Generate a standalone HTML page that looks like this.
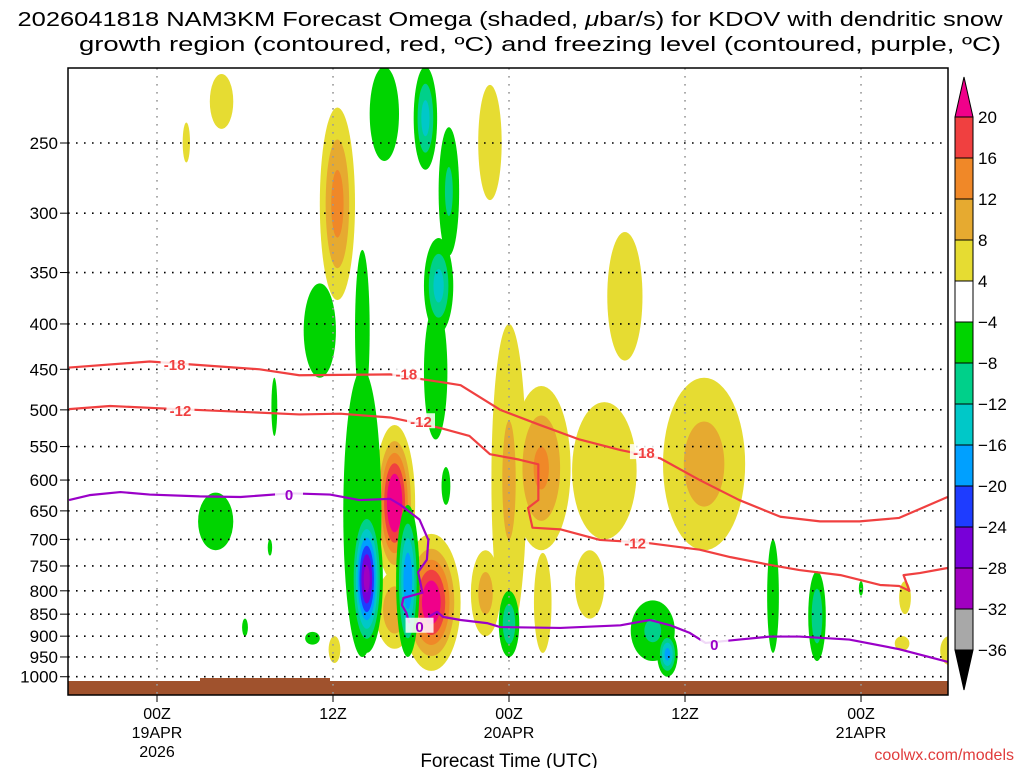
<!DOCTYPE html>
<html><head><meta charset="utf-8"><style>
html,body{margin:0;padding:0;background:#fff;}
svg{display:block;font-family:"Liberation Sans",sans-serif;}
</style></head><body>
<svg id="chart" width="1024" height="768" viewBox="0 0 1024 768" xmlns="http://www.w3.org/2000/svg">
<g font-size="20" fill="#000">
<text x="510" y="26" text-anchor="middle" textLength="985" lengthAdjust="spacingAndGlyphs">2026041818 NAM3KM Forecast Omega (shaded, <tspan font-style="italic">μ</tspan>bar/s) for KDOV with dendritic snow</text>
<text x="540" y="51" text-anchor="middle" textLength="922" lengthAdjust="spacingAndGlyphs">growth region (contoured, red, ºC) and freezing level (contoured, purple, ºC)</text>
</g>
<g id="shade"></g>
<rect x="68" y="681" width="880" height="14" fill="#a0522d"/>
<rect x="200" y="678" width="130" height="4" fill="#a0522d"/>
<g id="grid"></g>
<g id="contours"></g>
<rect x="68" y="68" width="880" height="627" fill="none" stroke="#000" stroke-width="1.5"/>
<g id="axes" font-size="17"></g>
<text x="509" y="767" text-anchor="middle" font-size="19">Forecast Time (UTC)</text>
<text x="1014" y="760" text-anchor="end" font-size="16" fill="#e03c3c">coolwx.com/models</text>
<g id="cbar" font-size="17"></g>
</svg>
<script>
// ----- data -----
const blobHour  = [10.4,8.0,18.3,28.7,37.9,22.2,22.2,24.7,30.0,32.2,36.5,43.3,35.5,28.4,19.5,18.1,57.0,56.8,60.0,32.3,
                   21.5,24.3,25.9,25.2,25.0,25.7,20.0,20.0,20.3,23.1,17.1,14.0,10.0,30.0,39.8,40.8,48.0,51.0,12.0,13.7,16.6,54.0];
const blobPTop  = [209,237,228,215,315,520,760,690,400,470,490,460,720,720,690,900,780,900,900,725,
                   205,205,240,320,380,580,450,330,640,640,360,460,620,800,820,890,700,760,860,700,890,780];
const blobPBot  = [241,263,376,290,440,780,930,985,900,720,700,720,860,900,820,965,850,935,970,940,
                   262,268,335,410,540,640,950,500,940,950,460,535,720,950,960,1000,940,960,900,730,920,810];
const blobHalfW = [0.8,0.25,1.2,0.8,1.2,1.4,1.3,2.0,1.2,2.0,2.2,2.8,1.0,1.0,0.35,0.4,0.4,0.5,0.6,0.6,
                   1.0,0.8,0.7,1.0,0.8,0.3,1.3,0.5,1.1,0.8,1.1,0.2,1.2,0.7,1.5,0.7,0.4,0.6,0.2,0.15,0.5,0.15];
const blobPeak  = [6,5,14,6,6,26,12,24,9,13,6,10,6,10,5,5,6,5,6,6,
                   -6,-14,-9,-14,-6,-5,-7,-6,-30,-20,-6,-5,-7,-12,-9,-18,-6,-12,-5,-5,-5,-5];
const levels = [20,16,12,8,4,-4,-8,-12,-16,-20,-24,-28,-32,-36];
const cbColors = ["#f04040","#f08828","#e6aa30","#e6dc32","#ffffff","#00d400","#00d08a","#00c8c8","#00a0ff","#1e3cff","#7800d8","#a000c0","#a8a8a8"];
const posLevels = [4,8,12,16,20];
const posColors = ["#e6dc32","#e6aa30","#f08828","#f04040","#f0008a"];
const negLevels = [4,8,12,16,20,24,28,32,36];
const negColors = ["#00d400","#00d08a","#00c8c8","#00a0ff","#1e3cff","#7800d8","#a000c0","#a8a8a8","#000000"];
const pTicks = [250,300,350,400,450,500,550,600,650,700,750,800,850,900,950,1000];
const xTickHours = [6,18,30,42,54];
const xTickL1 = ["00Z","12Z","00Z","12Z","00Z"];
const xTickL2 = ["19APR","","20APR","","21APR"];
const xTickL3 = ["2026","","","",""];
const c18H = [0,5.5,13.0,15.7,21.9,25.3,26.7,29.4,32.1,34.8,37.6,40.3,43.0,45.7,48.5,51.2,53.9,56.6,59.9];
const c18P = [448,441,450,457,456,465,469,500,520,540,555,567,600,632,660,668,668,662,627];
const c12H = [0,2.8,6.2,12.3,15.7,18.5,21.9,25.3,27.3,28.7,30.7,32.0,32.0,31.3,31.6,33.5,36.2,39.3,43.0,45.1,47.8,49.8,52.6,55.3,56.6,57.3,56.9,58.0,59.9];
const c12P = [499,495,498,503,506,505,510,524,535,561,569,576,632,645,679,682,701,706,719,733,748,758,768,788,790,800,768,764,754];
const c0H = [0,1.4,3.5,5.5,8.9,11.7,15.1,17.8,19.8,21.9,22.6,23.9,24.5,24.4,23.8,24.1,22.8,22.7,23.0,23.2];
const c0P = [632,624,619,623,626,627,621,623,632,630,640,665,701,738,762,804,815,830,847,870];
const c0bH = [24.5,25.1,25.5,26.7,28.5,29.4,33.5,37.6,39.6,41.0,42.3,43.4,45.7,47.8,49.8,53.2,56.6,59.9];
const c0bP = [856,845,856,863,870,879,881,875,863,875,892,916,908,901,901,908,931,962];
// ----- scales -----
const NS="http://www.w3.org/2000/svg";
const X = h => 69 + h*14.667;
const Y = p => 143 + 385*(Math.log(p) - Math.log(250));
function mk(tag, attrs, parent){const e=document.createElementNS(NS,tag);for(const k in attrs)e.setAttribute(k,attrs[k]);parent.appendChild(e);return e;}
const shade=document.getElementById('shade');
const clip=mk('clipPath',{id:'pc'},document.getElementById('chart'));
mk('rect',{x:68,y:68,width:880,height:627},clip);
shade.setAttribute('clip-path','url(#pc)');
function drawLevels(lv, cols, sign){
  lv.forEach((t,li)=>{
    blobPeak.forEach((P,i)=>{
      if(Math.sign(P)!==sign) return;
      const a=Math.abs(P); if(t>=a) return;
      const s=Math.sqrt(Math.log(a/t)/Math.log(a/4));
      const y1=Y(blobPTop[i]), y2=Y(blobPBot[i]);
      const e=mk('ellipse',{cx:X(blobHour[i]),cy:(y1+y2)/2,rx:blobHalfW[i]*14.667*s,ry:(y2-y1)/2*s,fill:cols[li]},shade);
      
      
    });
  });
}
drawLevels(posLevels,posColors,1);
drawLevels(negLevels,negColors,-1);
// grid
const grid=document.getElementById('grid');
pTicks.forEach(p=>{
  const l=mk('line',{x1:68,x2:948,y1:Y(p),y2:Y(p),stroke:'#000','stroke-width':1.6,'stroke-dasharray':'1.6,6.4'},grid);
  
  
});
xTickHours.forEach(h=>{
  const l=mk('line',{x1:X(h),x2:X(h),y1:68,y2:695,stroke:'#999','stroke-width':1.6,'stroke-dasharray':'1.6,6.4'},grid);
  
  
});
// contours
const cg=document.getElementById('contours');
function line(H,P,color,name){
  const pl=mk('polyline',{points:H.map((h,i)=>X(h)+','+Y(P[i])).join(' '),fill:'none',stroke:color,'stroke-width':2.2,'stroke-linejoin':'round'},cg);
  
  
}
line(c18H,c18P,'#f04040','contour-minus-18');
line(c12H,c12P,'#f04040','contour-minus-12');
line(c0H,c0P,'#9a00c8','freezing-level-0');
line(c0bH,c0bP,'#9a00c8','freezing-level-0-east');
function lab(h,p,txt,color){
  const x=X(h),y=Y(p);
  const r=mk('rect',{x:x-14,y:y-8,width:28,height:15,fill:'#fff',opacity:0.85},cg);
  
  
  const t=mk('text',{x:x,y:y+6,'text-anchor':'middle','font-size':15,'font-weight':'bold',fill:color},cg);
  t.textContent=txt;
  
  
}
lab(7.2,444,'-18','#f04040');lab(23.0,455,'-18','#f04040');lab(39.2,558,'-18','#f04040');
lab(7.6,500,'-12','#f04040');lab(24.0,515,'-12','#f04040');lab(38.6,706,'-12','#f04040');
lab(15.0,622,'0','#9a00c8');lab(23.9,876,'0','#9a00c8');lab(44.0,918,'0','#9a00c8');
// axes
const ax=document.getElementById('axes');
pTicks.forEach(p=>{
  const t=mk('text',{x:58,y:Y(p)+6,'text-anchor':'end'},ax);t.textContent=p;
  
  
  const k=mk('line',{x1:60,x2:68,y1:Y(p),y2:Y(p),stroke:'#000'},ax);
  
  
});
xTickHours.forEach((h,i)=>{
  [xTickL1[i],xTickL2[i],xTickL3[i]].forEach((s,j)=>{
    if(!s) return;
    const t=mk('text',{x:X(h),y:719+j*19,'text-anchor':'middle','font-size':16},ax);t.textContent=s;
    
    
  });
  const k=mk('line',{x1:X(h),x2:X(h),y1:695,y2:702,stroke:'#000'},ax);
  
  
});
// colorbar
const cb=document.getElementById('cbar');
const bx=955,bw=18,b0=117,bs=41;
const tri1=mk('polygon',{points:`${bx},${b0} ${bx+bw},${b0} ${bx+bw/2},${b0-40}`,fill:'#f0008a',stroke:'#000'},cb);


cbColors.forEach((c,i)=>{
  const r=mk('rect',{x:bx,y:b0+i*bs,width:bw,height:bs,fill:c,stroke:'#000'},cb);
  
  
});
const bEnd=b0+cbColors.length*bs;
const tri2=mk('polygon',{points:`${bx},${bEnd} ${bx+bw},${bEnd} ${bx+bw/2},${bEnd+40}`,fill:'#000',stroke:'#000'},cb);


levels.forEach((v,i)=>{
  const t=mk('text',{x:978,y:b0+i*bs+6},cb);t.textContent=v<0?('\u2212'+(-v)):v;
  
  
});
</script>
</body></html>
